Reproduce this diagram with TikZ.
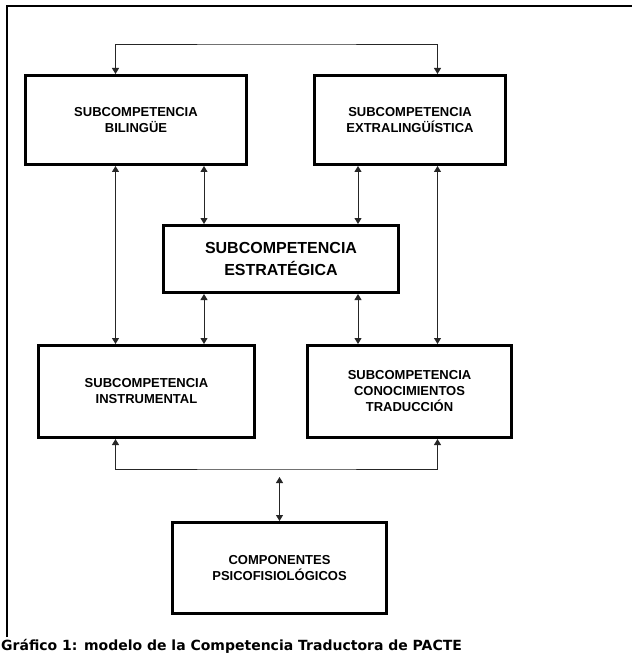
\documentclass[tikz,border=0pt]{standalone}
\usepackage{fontspec}
\setmainfont{Liberation Sans}
\newfontfamily\capfont{DejaVu Sans}
\usetikzlibrary{arrows.meta}
\begin{document}
\begin{tikzpicture}[x=1pt,y=-1pt,
  compbox/.style={draw=black,line width=3pt,rectangle,align=center,
    font=\fontsize{13}{16}\selectfont\bfseries,inner sep=0pt},
  link/.style={draw=black!85,line width=0.9pt},
  dbl/.style={{Triangle[width=7pt,length=6pt]}-{Triangle[width=7pt,length=6pt]}}]
\useasboundingbox (0,0) rectangle (632,660);
\fill[white] (0,0) rectangle (632,660);
% outer frame (top and left edges)
\draw[line width=2pt] (6.5,637) -- (6.5,6.5) -- (632,6.5);

% subcompetence boxes
\node[compbox,minimum width=221pt,minimum height=89pt] (bil) at (136,120)
  {SUBCOMPETENCIA\\BILINGÜE};
\node[compbox,minimum width=191pt,minimum height=89pt] (ext) at (410,120)
  {SUBCOMPETENCIA\\EXTRALINGÜÍSTICA};
\node[compbox,minimum width=235pt,minimum height=67pt,
  font=\fontsize{16}{22}\selectfont\bfseries] (est) at (281,259)
  {SUBCOMPETENCIA\\ESTRATÉGICA};
\node[compbox,minimum width=216pt,minimum height=92pt] (ins) at (146.5,391.5)
  {SUBCOMPETENCIA\\INSTRUMENTAL};
\node[compbox,minimum width=204pt,minimum height=92pt] (con) at (409.5,391.5)
  {SUBCOMPETENCIA\\CONOCIMIENTOS\\TRADUCCIÓN};
\node[compbox,minimum width=214pt,minimum height=91pt] (psi) at (279.5,568)
  {COMPONENTES\\PSICOFISIOLÓGICOS};

% connector columns and bus lines
\coordinate (cA) at (115.5,0);
\coordinate (cB) at (204,0);
\coordinate (cC) at (358,0);
\coordinate (cD) at (437.5,0);
\coordinate (topbus) at (277,44);
\coordinate (botbus) at (277,469);
\coordinate (psitop) at (279.5,477);

% top bus between bilingual and extralinguistic
\draw[link,dbl] (bil.north -| cA) |- (topbus) -| (ext.north -| cD);
% vertical links
\draw[link,dbl] (bil.south -| cA) -- (ins.north -| cA);
\draw[link,dbl] (bil.south -| cB) -- (est.north -| cB);
\draw[link,dbl] (est.south -| cB) -- (ins.north -| cB);
\draw[link,dbl] (ext.south -| cC) -- (est.north -| cC);
\draw[link,dbl] (est.south -| cC) -- (con.north -| cC);
\draw[link,dbl] (ext.south -| cD) -- (con.north -| cD);
% bottom bus and link to psychophysiological components
\draw[link,dbl] (ins.south -| cA) |- (botbus) -| (con.south -| cD);
\draw[link,dbl] (psitop) -- (psi.north);

% caption
\node[anchor=base west,inner sep=0pt,font=\capfont\bfseries\fontsize{14}{16}\selectfont]
  (cap) at (1,650) {Gráfico 1: modelo de la Competencia Traductora de PACTE};
\end{tikzpicture}
\end{document}
